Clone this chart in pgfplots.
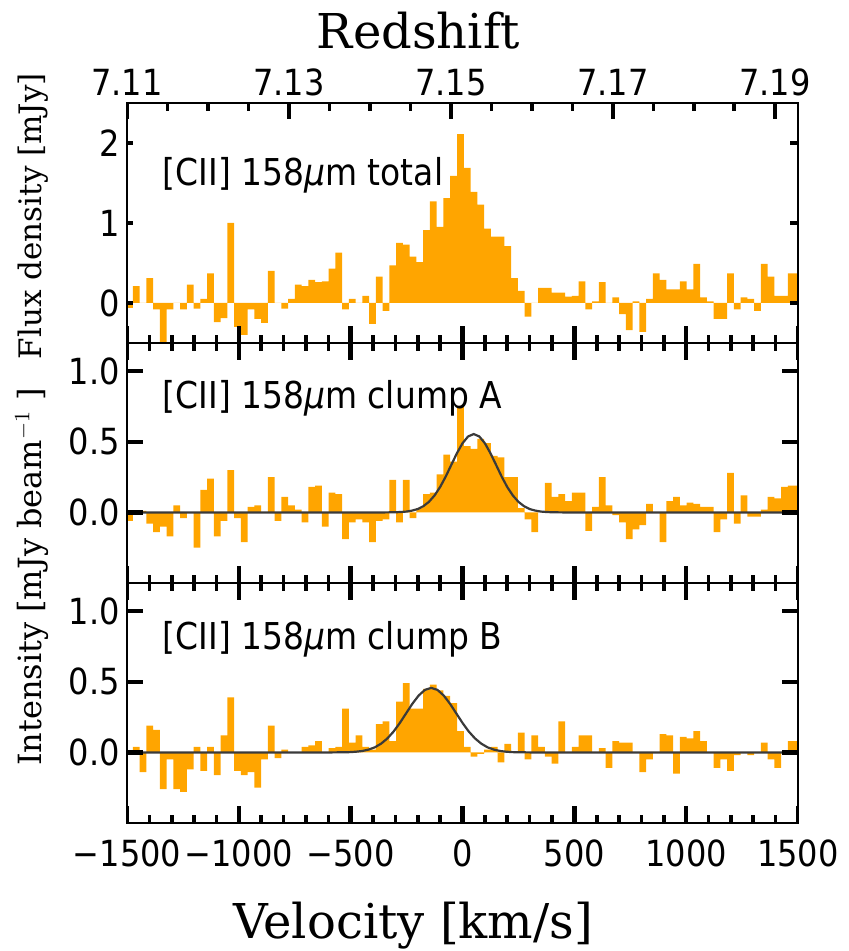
\documentclass[border=0pt]{standalone}
\usepackage{fontspec}
\usepackage{pgfplots}
\pgfplotsset{compat=1.18}
\usepackage{pgfplotstable}
\newfontfamily\sansf[FakeStretch=0.89]{DejaVu Sans}
\newfontfamily\seriff{DejaVu Serif}
\definecolor{barorange}{HTML}{FFA500}
\definecolor{fitgray}{HTML}{3A3A3A}

% left bin edge (km/s), total, clump A, clump B
\pgfplotstableread{
x a b c
-1504.4 -0.06 -0.06 0.00
-1474.2 0.21 0.01 0.04
-1444.0 0.00 0.01 -0.14
-1413.8 0.31 -0.08 0.19
-1383.6 -0.08 -0.14 0.16
-1353.4 -0.50 -0.10 -0.26
-1323.2 -0.08 -0.17 -0.05
-1293.0 0.00 0.05 -0.26
-1262.8 -0.08 -0.04 -0.28
-1232.6 0.23 0.00 -0.12
-1202.4 -0.07 -0.25 0.04
-1172.2 0.05 0.16 -0.13
-1142.0 0.37 0.24 0.04
-1111.8 -0.24 -0.17 -0.16
-1081.6 -0.19 -0.06 0.12
-1051.4 1.00 0.30 0.39
-1021.2 -0.30 -0.04 -0.13
-991.0 -0.40 -0.21 -0.16
-960.8 -0.08 0.04 -0.14
-930.6 -0.20 0.05 -0.25
-900.4 -0.25 0.00 -0.05
-870.2 0.40 0.25 0.19
-840.0 0.00 -0.06 -0.04
-809.8 -0.07 0.11 0.02
-779.6 0.05 0.05 0.00
-749.4 0.23 0.02 0.00
-719.2 0.21 -0.07 0.04
-689.0 0.29 0.18 0.05
-658.8 0.26 0.19 0.08
-628.6 0.27 -0.10 0.00
-598.4 0.43 0.14 0.03
-568.2 0.63 0.13 0.04
-538.0 -0.08 -0.19 0.31
-507.8 0.05 -0.07 0.07
-477.6 0.00 -0.05 0.12
-447.4 0.09 -0.07 0.04
-417.2 -0.26 -0.21 0.02
-387.0 0.33 -0.06 0.20
-356.8 -0.10 -0.05 0.22
-326.6 0.47 0.23 0.08
-296.4 0.75 -0.07 0.36
-266.2 0.73 0.23 0.49
-236.0 0.58 -0.04 0.31
-205.8 0.51 0.03 0.31
-175.6 0.91 0.13 0.45
-145.4 1.27 0.14 0.48
-115.2 0.95 0.27 0.44
-85.0 1.31 0.41 0.40
-54.8 1.59 0.36 0.35
-24.6 2.11 0.75 0.15
5.6 1.69 0.47 0.04
35.8 1.39 0.45 -0.03
66.0 1.23 0.52 -0.01
96.2 0.93 0.49 0.02
126.4 0.83 0.40 0.04
156.6 0.83 0.39 -0.07
186.8 0.71 0.25 0.06
217.0 0.31 0.25 0.00
247.2 0.15 0.03 0.14
277.4 -0.17 -0.05 -0.05
307.6 0.00 -0.14 0.12
337.8 0.19 0.00 0.04
368.0 0.19 0.21 -0.03
398.2 0.13 0.11 -0.08
428.4 0.13 0.13 0.22
458.6 0.08 0.08 0.00
488.8 0.09 0.14 0.04
519.0 0.27 0.14 0.12
549.2 -0.08 -0.13 0.12
579.4 0.02 0.04 0.00
609.6 0.26 0.25 0.03
639.8 0.00 0.05 -0.11
670.0 0.07 -0.02 0.08
700.2 -0.14 -0.07 0.07
730.4 -0.34 -0.19 0.07
760.6 0.02 -0.12 0.00
790.8 -0.36 -0.09 -0.14
821.0 0.05 0.06 -0.05
851.2 0.37 0.00 0.00
881.4 0.29 -0.21 0.13
911.6 0.17 0.08 0.12
941.8 0.17 0.11 -0.15
972.0 0.27 0.05 0.11
1002.2 0.17 0.07 0.10
1032.4 0.49 0.06 0.15
1062.6 0.07 0.04 0.08
1092.8 0.02 0.04 0.00
1123.0 -0.20 -0.14 -0.11
1153.2 -0.20 -0.05 -0.05
1183.4 0.37 0.28 -0.13
1213.6 -0.08 -0.08 -0.02
1243.8 0.07 0.12 0.00
1274.0 0.05 -0.03 -0.02
1304.2 -0.10 -0.03 0.00
1334.4 0.49 0.02 0.07
1364.6 0.33 0.11 -0.05
1394.8 0.09 0.10 -0.11
1425.0 0.09 0.18 0.00
1455.2 0.37 0.19 0.08
1485.4 0.37 0.19 0.08
1515.6 0.37 0.19 0.08
}\spec

% Gaussian fit, clump A
\pgfplotstableread{
x y
-1500 0
-350 0.000
-300 0.001
-275 0.003
-250 0.006
-225 0.013
-200 0.024
-175 0.044
-150 0.075
-125 0.120
-100 0.180
-75 0.254
-50 0.337
-25 0.419
0 0.490
25 0.538
50 0.555
75 0.538
100 0.490
125 0.419
150 0.337
175 0.254
200 0.180
225 0.120
250 0.075
275 0.044
300 0.024
325 0.013
350 0.006
375 0.003
400 0.001
450 0.000
1500 0
}\fitA

% Gaussian fit, clump B
\pgfplotstableread{
x y
-1500 0
-588 0.000
-532 0.001
-504 0.002
-476 0.005
-448 0.010
-420 0.020
-392 0.036
-364 0.062
-336 0.099
-308 0.148
-280 0.209
-252 0.277
-224 0.345
-196 0.403
-168 0.443
-140 0.457
-112 0.443
-84 0.403
-56 0.345
-28 0.277
0 0.209
28 0.148
56 0.099
84 0.062
112 0.036
140 0.020
168 0.010
196 0.005
224 0.002
252 0.001
308 0.000
1500 0
}\fitB

\pgfplotsset{
  panel/.style={
    width=335.5pt, height=120pt, scale only axis,
    xmin=-1500, xmax=1500,
    axis on top,
    axis line style={line width=1pt, black},
    tick align=inside,
    major tick length=0pt, minor tick length=0pt,
    xtick={-1500,-1000,...,1500},
    xticklabels={},
    tick label style={font=\sansf\fontsize{18}{21}\selectfont},
  },
  spectrum/.style={const plot mark left, fill=barorange, draw=none},
  gaussfit/.style={fitgray, line width=1.1pt},
}
\tikzset{
  lbl/.style={font=\sansf\fontsize{18.5}{22}\selectfont, anchor=base west, inner sep=0pt},
  maj/.style={black, line width=2.2pt},
  mnr/.style={black, line width=1.8pt},
}

\begin{document}
\begin{tikzpicture}
\path[use as bounding box] (-63.5pt,51.5pt) rectangle (360.5pt,-424pt);

% ---- panel 1: total
\begin{axis}[panel, at={(0,0)}, anchor=north west,
  ymin=-0.5, ymax=2.5,
  ytick={0,1,2}, yticklabels={0,1,2},
  xtick pos=left]
\addplot[spectrum] table[x=x, y=a] {\spec} \closedcycle;
\pgfplotsinvokeforeach{-1500,-1000,-500,0,500,1000,1500}{
  \draw[maj] (axis cs:#1,-0.5) -- ++(0pt,8.5pt);}
\pgfplotsinvokeforeach{-1400,-1300,-1200,-1100,-900,-800,-700,-600,-400,-300,-200,-100,100,200,300,400,600,700,800,900,1100,1200,1300,1400}{
  \draw[mnr] (axis cs:#1,-0.5) -- ++(0pt,4pt);}
\pgfplotsinvokeforeach{0,1,2}{
  \draw[mnr] (axis cs:-1500,#1) -- ++(3pt,0pt);
  \draw[mnr] (axis cs:1500,#1) -- ++(-4pt,0pt);}
\node[lbl] at (rel axis cs:0.053,0.658) {[CII] 158{\itshape μ}m total};
\end{axis}

% ---- redshift axis on top
\begin{axis}[width=335.5pt, height=120pt, scale only axis,
  at={(0,0)}, anchor=north west,
  xmin=7.11, xmax=7.19287, ymin=0, ymax=1,
  axis x line*=top, axis y line=none,
  axis line style={line width=1pt, black},
  tick align=inside,
  major tick length=0pt, minor tick length=0pt,
  xtick={7.11,7.13,7.15,7.17,7.19},
  xticklabels={7.11,7.13,7.15,7.17,7.19},
  tick label style={font=\sansf\fontsize{18}{21}\selectfont}]
\pgfplotsinvokeforeach{7.11,7.13,7.15,7.17,7.19}{
  \draw[maj] (axis cs:#1,1) -- ++(0pt,-8pt);}
\pgfplotsinvokeforeach{7.115,7.12,7.125,7.135,7.14,7.145,7.155,7.16,7.165,7.175,7.18,7.185}{
  \draw[mnr] (axis cs:#1,1) -- ++(0pt,-4pt);}
\end{axis}

% ---- panel 2: clump A
\begin{axis}[panel, at={(0,-120pt)}, anchor=north west,
  ymin=-0.5, ymax=1.2,
  ytick={0,0.5,1}, yticklabels={0.0,0.5,1.0}]
\addplot[spectrum] table[x=x, y=b] {\spec} \closedcycle;
\addplot[gaussfit] table[x=x, y=y] {\fitA};
\pgfplotsinvokeforeach{-1500,-1000,-500,0,500,1000,1500}{
  \draw[maj] (axis cs:#1,-0.5) -- ++(0pt,8.5pt);
  \draw[maj] (axis cs:#1,1.2) -- ++(0pt,-8.5pt);}
\pgfplotsinvokeforeach{-1400,-1300,-1200,-1100,-900,-800,-700,-600,-400,-300,-200,-100,100,200,300,400,600,700,800,900,1100,1200,1300,1400}{
  \draw[mnr] (axis cs:#1,-0.5) -- ++(0pt,4pt);
  \draw[mnr] (axis cs:#1,1.2) -- ++(0pt,-4pt);}
\pgfplotsinvokeforeach{0,0.5,1}{
  \draw[maj] (axis cs:-1500,#1) -- ++(8pt,0pt);
  \draw[maj] (axis cs:1500,#1) -- ++(-8pt,0pt);}
\node[lbl] at (rel axis cs:0.053,0.728) {[CII] 158{\itshape μ}m clump A};
\end{axis}

% ---- panel 3: clump B
\begin{axis}[panel, at={(0,-240pt)}, anchor=north west,
  ymin=-0.5, ymax=1.2,
  ytick={0,0.5,1}, yticklabels={0.0,0.5,1.0},
  xticklabels={−1500,−1000,−500,0,500,1000,1500},
  xticklabel style={yshift=-5pt}]
\addplot[spectrum] table[x=x, y=c] {\spec} \closedcycle;
\addplot[gaussfit] table[x=x, y=y] {\fitB};
\pgfplotsinvokeforeach{-1500,-1000,-500,0,500,1000,1500}{
  \draw[maj] (axis cs:#1,-0.5) -- ++(0pt,8.5pt);
  \draw[maj] (axis cs:#1,1.2) -- ++(0pt,-8.5pt);}
\pgfplotsinvokeforeach{-1400,-1300,-1200,-1100,-900,-800,-700,-600,-400,-300,-200,-100,100,200,300,400,600,700,800,900,1100,1200,1300,1400}{
  \draw[mnr] (axis cs:#1,-0.5) -- ++(0pt,4pt);
  \draw[mnr] (axis cs:#1,1.2) -- ++(0pt,-4pt);}
\pgfplotsinvokeforeach{0,0.5,1}{
  \draw[maj] (axis cs:-1500,#1) -- ++(8pt,0pt);
  \draw[maj] (axis cs:1500,#1) -- ++(-8pt,0pt);}
\node[lbl] at (rel axis cs:0.053,0.724) {[CII] 158{\itshape μ}m clump B};
\end{axis}

% ---- axis titles
\node[font=\seriff\fontsize{24}{28}\selectfont, anchor=base] at (145.75pt,27.3pt) {Redshift};
\node[font=\seriff\fontsize{24}{28}\selectfont, anchor=base] at (143pt,-417.5pt) {Velocity [km/s]};
\node[font=\seriff\fontsize{15.5}{18}\selectfont, anchor=base, rotate=90] at (-42.5pt,-56.5pt) {Flux density [mJy]};
\node[font=\seriff\fontsize{16}{19}\selectfont, anchor=base, rotate=90] at (-42.5pt,-237pt) {Intensity [mJy beam$^{-1}$ ]};
\end{tikzpicture}
\end{document}
